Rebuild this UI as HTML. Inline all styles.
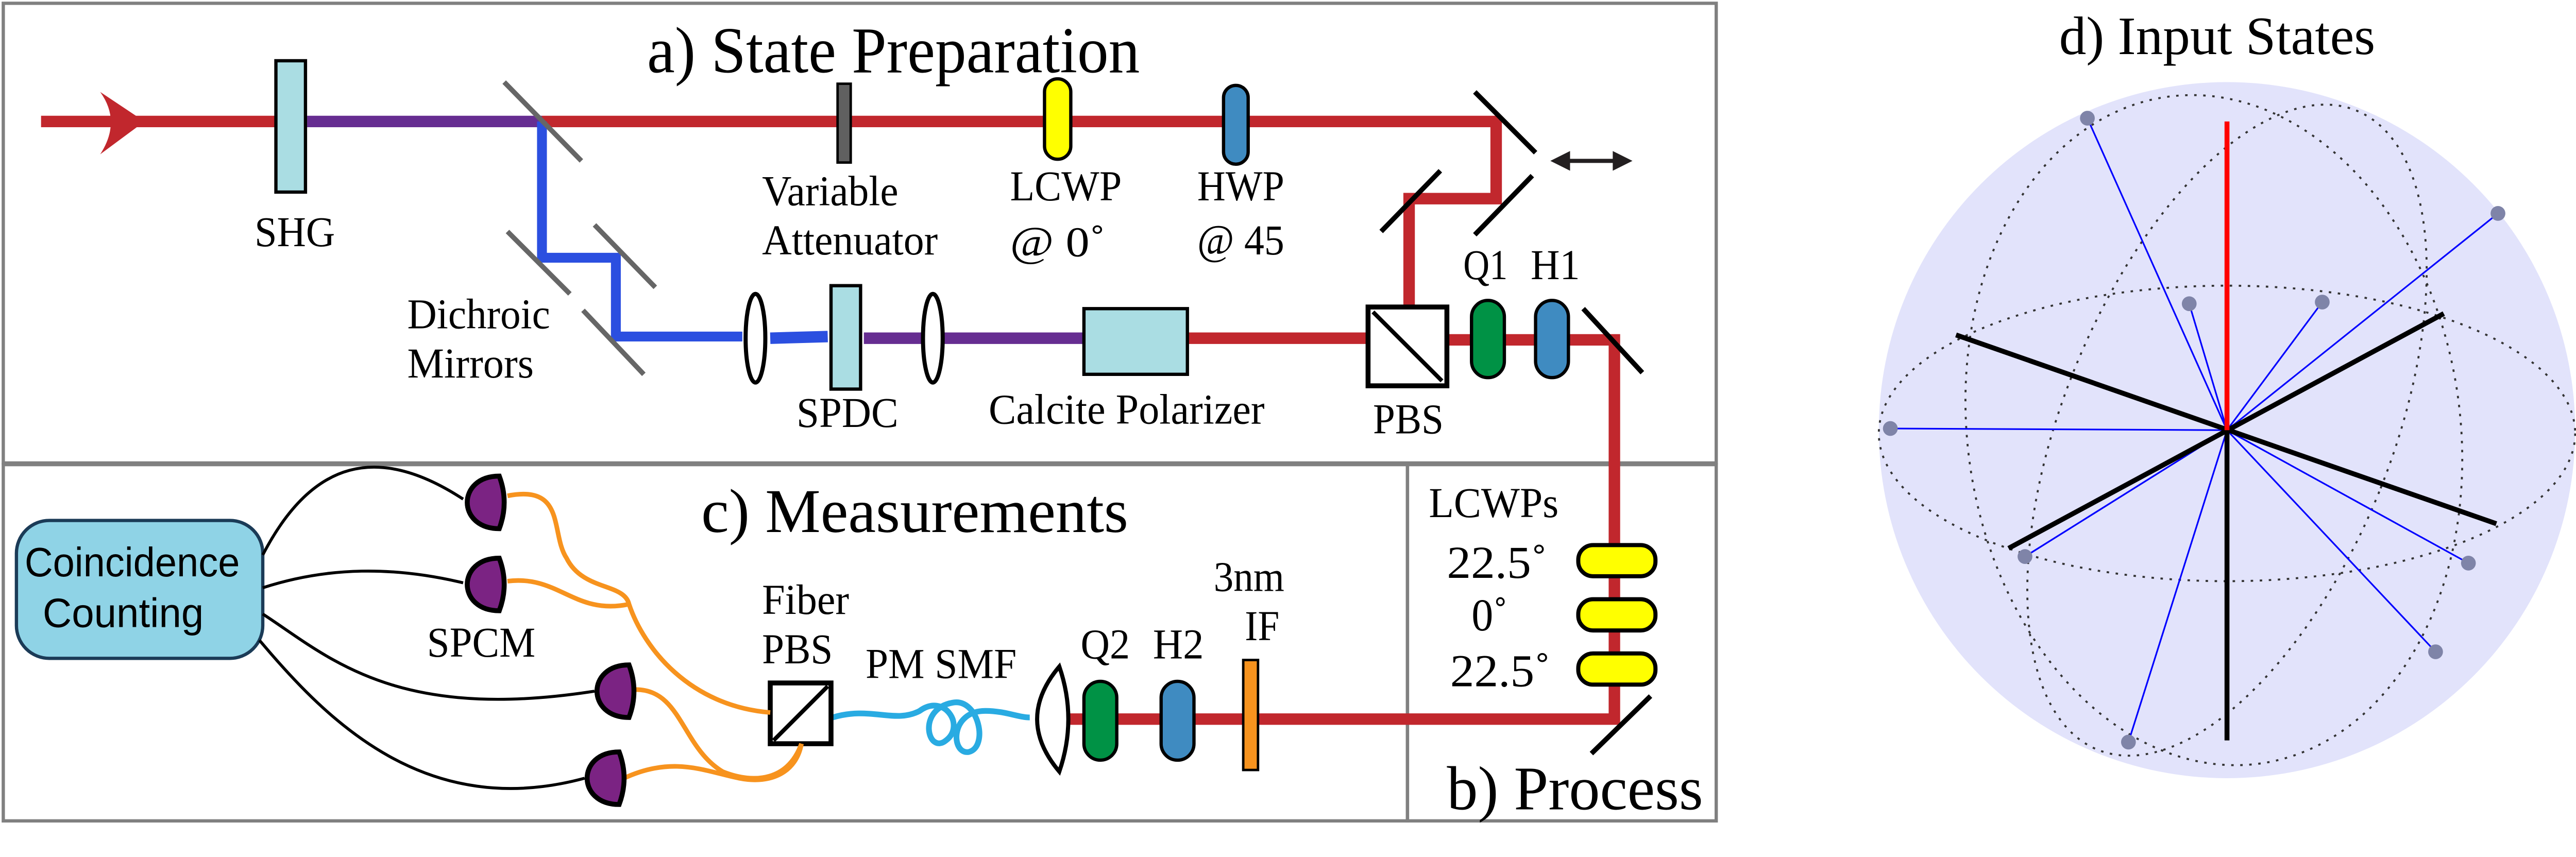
<!DOCTYPE html>
<html><head><meta charset="utf-8"><style>html,body{margin:0;padding:0;background:#fff;overflow:hidden}svg{display:block}text{font-family:"Liberation Serif",serif}.sans{font-family:"Liberation Sans",sans-serif}</style></head><body>
<svg width="5200" height="1664" viewBox="0 0 1631 522" preserveAspectRatio="xMinYMin meet" xmlns="http://www.w3.org/2000/svg">
<rect x="0" y="0" width="1631" height="522" fill="#fff"/>
<!-- panels -->
<rect x="2" y="2" width="1043" height="280" fill="none" stroke="#808080" stroke-width="2"/>
<rect x="2" y="283" width="855" height="217" fill="none" stroke="#808080" stroke-width="2"/>
<rect x="857" y="283" width="188" height="217" fill="none" stroke="#808080" stroke-width="2"/>

<!-- beams -->
<g stroke-linecap="butt" fill="none">
<line x1="25" y1="74" x2="168" y2="74" stroke="#c1272d" stroke-width="7"/>
<line x1="187" y1="74" x2="330" y2="74" stroke="#662d91" stroke-width="7"/>
<polyline points="330,74 911,74 911,121 858,121 858,187" stroke="#c1272d" stroke-width="7"/>
<polyline points="330,74 330,157 375,157 375,205 452,205" stroke="#2b4fe0" stroke-width="6"/>
<line x1="469" y1="206" x2="504" y2="205" stroke="#2b4fe0" stroke-width="7"/>
<line x1="526" y1="206" x2="660" y2="206" stroke="#662d91" stroke-width="7"/>
<line x1="723" y1="206" x2="833" y2="206" stroke="#c1272d" stroke-width="7"/>
<polyline points="881,207 983,207 983,438 651,438" stroke="#c1272d" stroke-width="7"/>
<path d="M507,437 C530,430 545,441 560,433 C575,422 588,442 576,451 C565,460 558,432 580,428 C596,425 602,455 590,458 C579,460 578,433 600,433 C612,433 620,437 627,437" stroke="#29abe2" stroke-width="3.5"/>
</g>
<path d="M61,56 L88,74 L61,94 Q74,74 61,56 Z" fill="#c1272d"/>
<rect x="168" y="37" width="18" height="80" fill="#aadde3" stroke="#000" stroke-width="2"/>
<g stroke="#666" stroke-width="3">
<line x1="307" y1="50" x2="354" y2="98"/>
<line x1="309" y1="141" x2="347" y2="179"/>
<line x1="362" y1="137" x2="399" y2="175"/>
<line x1="355" y1="189" x2="392" y2="228"/>
</g>
<rect x="510" y="51" width="8" height="48" fill="#606060" stroke="#000" stroke-width="1.5"/>
<rect x="636" y="48" width="16" height="49" rx="8" fill="#ffff00" stroke="#000" stroke-width="2"/>
<rect x="745" y="52" width="15" height="48" rx="7.5" fill="#3f8bc1" stroke="#000" stroke-width="2"/>
<ellipse cx="460" cy="206" rx="6" ry="27" fill="#fff" stroke="#000" stroke-width="2.5"/>
<rect x="506" y="174" width="18" height="63" fill="#aadde3" stroke="#000" stroke-width="2"/>
<ellipse cx="568" cy="206" rx="6" ry="27" fill="#fff" stroke="#000" stroke-width="2.5"/>
<rect x="660" y="188" width="63" height="40" fill="#aadde3" stroke="#000" stroke-width="2"/>
<rect x="833" y="187" width="48" height="48" fill="#fff" stroke="#000" stroke-width="3"/>
<line x1="836" y1="190" x2="878" y2="232" stroke="#000" stroke-width="2.5"/>
<g stroke="#000" stroke-width="3">
<line x1="898" y1="56" x2="935" y2="93"/>
<line x1="841" y1="141" x2="877" y2="104"/>
<line x1="898" y1="143" x2="933" y2="107"/>
<line x1="964" y1="188" x2="1000" y2="227"/>
<line x1="969" y1="459" x2="1005" y2="424"/>
</g>
<line x1="952" y1="98" x2="986" y2="98" stroke="#231f20" stroke-width="2.5"/>
<path d="M944,98 L956,92 L956,104 Z M994,98 L982,92 L982,104 Z" fill="#231f20"/>
<rect x="896" y="183" width="20" height="47" rx="10" fill="#009245" stroke="#000" stroke-width="2"/>
<rect x="935" y="183" width="20" height="47" rx="10" fill="#3f8bc1" stroke="#000" stroke-width="2"/>
<rect x="961" y="332" width="47" height="19" rx="9" fill="#ffff00" stroke="#000" stroke-width="2.5"/>
<rect x="961" y="365" width="47" height="19" rx="9" fill="#ffff00" stroke="#000" stroke-width="2.5"/>
<rect x="961" y="398" width="47" height="19" rx="9" fill="#ffff00" stroke="#000" stroke-width="2.5"/>
<rect x="757" y="402" width="9" height="67" fill="#f7931e" stroke="#000" stroke-width="1.5"/>
<rect x="707" y="415" width="20" height="48" rx="10" fill="#3f8bc1" stroke="#000" stroke-width="2"/>
<rect x="660" y="415" width="20" height="48" rx="10" fill="#009245" stroke="#000" stroke-width="2"/>
<path d="M645,406 Q618,438 645,470 Q656,438 645,406 Z" fill="#fff" stroke="#000" stroke-width="2.5"/>
<rect x="469" y="416" width="37" height="37" fill="#fff" stroke="#000" stroke-width="3"/>
<line x1="471" y1="451" x2="504" y2="418" stroke="#000" stroke-width="2.5"/>
<rect x="10" y="317" width="150" height="84" rx="20" fill="#8fd3e6" stroke="#1b3b57" stroke-width="2"/>
<g fill="none" stroke="#000" stroke-width="1.8">
<path d="M160,338 C190,280 230,270 282,304"/>
<path d="M160,358 C200,345 240,345 282,355"/>
<path d="M160,374 C200,400 240,440 362,421"/>
<path d="M158,390 C200,440 260,500 356,474"/>
</g>
<g fill="none" stroke="#f7931e" stroke-width="2.8">
<path d="M309,302 C345,295 335,325 345,340 C355,360 380,355 383,368 C392,395 420,430 469,434"/>
<path d="M309,354 C340,350 350,375 383,368"/>
<path d="M387,420 C415,420 415,455 440,470 C460,478 480,475 488,453"/>
<path d="M380,474 C410,460 430,470 450,474 C470,478 485,470 488,453"/>
</g>
<g fill="#7b2383" stroke="#000" stroke-width="3">
<path d="M304,290 C278,290 278,322 304,322 Q310,306 304,290 Z"/>
<path d="M304,340 C278,340 278,372 304,372 Q310,356 304,340 Z"/>
<path d="M383,405 C357,405 357,437 383,437 Q389,421 383,405 Z"/>
<path d="M377,458 C351,458 351,490 377,490 Q383,474 377,458 Z"/>
</g>

<g fill="#000">
<text x="394" y="44" font-size="40" textLength="300" lengthAdjust="spacingAndGlyphs">a) State Preparation</text>
<text x="427" y="324" font-size="38" textLength="260" lengthAdjust="spacingAndGlyphs">c) Measurements</text>
<text x="881" y="493" font-size="38" textLength="156" lengthAdjust="spacingAndGlyphs">b) Process</text>
<text x="155" y="150" font-size="26" textLength="49" lengthAdjust="spacingAndGlyphs">SHG</text>
<text x="248" y="200" font-size="26" textLength="87" lengthAdjust="spacingAndGlyphs">Dichroic</text>
<text x="248" y="230" font-size="26" textLength="77" lengthAdjust="spacingAndGlyphs">Mirrors</text>
<text x="464" y="125" font-size="26" textLength="83" lengthAdjust="spacingAndGlyphs">Variable</text>
<text x="464" y="155" font-size="26" textLength="107" lengthAdjust="spacingAndGlyphs">Attenuator</text>
<text x="615" y="122" font-size="26" textLength="68" lengthAdjust="spacingAndGlyphs">LCWP</text>
<text x="615" y="156" font-size="26" textLength="58" lengthAdjust="spacingAndGlyphs">@ 0˚</text>
<text x="729" y="122" font-size="26" textLength="53" lengthAdjust="spacingAndGlyphs">HWP</text>
<text x="729" y="155" font-size="26" textLength="53" lengthAdjust="spacingAndGlyphs">@ 45</text>
<text x="891" y="170" font-size="26" textLength="27" lengthAdjust="spacingAndGlyphs">Q1</text>
<text x="932" y="170" font-size="26" textLength="30" lengthAdjust="spacingAndGlyphs">H1</text>
<text x="485" y="260" font-size="26" textLength="62" lengthAdjust="spacingAndGlyphs">SPDC</text>
<text x="602" y="258" font-size="26" textLength="168" lengthAdjust="spacingAndGlyphs">Calcite Polarizer</text>
<text x="836" y="264" font-size="26" textLength="43" lengthAdjust="spacingAndGlyphs">PBS</text>
<text x="870" y="315" font-size="26" textLength="79" lengthAdjust="spacingAndGlyphs">LCWPs</text>
<text x="881" y="352" font-size="28" textLength="61" lengthAdjust="spacingAndGlyphs">22.5˚</text>
<text x="896" y="384" font-size="28" textLength="22" lengthAdjust="spacingAndGlyphs">0˚</text>
<text x="883" y="418" font-size="28" textLength="61" lengthAdjust="spacingAndGlyphs">22.5˚</text>
<text x="739" y="360" font-size="26" textLength="43" lengthAdjust="spacingAndGlyphs">3nm</text>
<text x="758" y="390" font-size="26" textLength="21" lengthAdjust="spacingAndGlyphs">IF</text>
<text x="658" y="401" font-size="26" textLength="30" lengthAdjust="spacingAndGlyphs">Q2</text>
<text x="702" y="401" font-size="26" textLength="31" lengthAdjust="spacingAndGlyphs">H2</text>
<text x="527" y="413" font-size="26" textLength="92" lengthAdjust="spacingAndGlyphs">PM SMF</text>
<text x="464" y="374" font-size="26" textLength="53" lengthAdjust="spacingAndGlyphs">Fiber</text>
<text x="464" y="404" font-size="26" textLength="43" lengthAdjust="spacingAndGlyphs">PBS</text>
<text x="260" y="400" font-size="26" textLength="66" lengthAdjust="spacingAndGlyphs">SPCM</text>
<text class="sans" x="15" y="351" font-size="25" textLength="131" lengthAdjust="spacingAndGlyphs">Coincidence</text>
<text class="sans" x="26" y="382" font-size="25" textLength="98" lengthAdjust="spacingAndGlyphs">Counting</text>
</g>

<text x="1350" y="33" font-size="33" text-anchor="middle">d) Input States</text>
<circle cx="1356" cy="262" r="212" fill="#e2e3fb"/>
<g fill="none" stroke="#333" stroke-width="1.2" stroke-dasharray="1.5,4">
<ellipse cx="1356" cy="264" rx="212" ry="90"/>
<ellipse cx="1348" cy="262" rx="150" ry="205" transform="rotate(-8 1348 262)"/>
<ellipse cx="1356" cy="262" rx="100" ry="210" transform="rotate(22 1356 262)"/>
</g>
<g stroke="#00f" stroke-width="1">
<line x1="1356" y1="262" x2="1271" y2="72"/>
<line x1="1356" y1="262" x2="1521" y2="130"/>
<line x1="1356" y1="262" x2="1333" y2="185"/>
<line x1="1356" y1="262" x2="1414" y2="184"/>
<line x1="1356" y1="262" x2="1151" y2="261"/>
<line x1="1356" y1="262" x2="1233" y2="339"/>
<line x1="1356" y1="262" x2="1503" y2="343"/>
<line x1="1356" y1="262" x2="1483" y2="397"/>
<line x1="1356" y1="262" x2="1296" y2="452"/>
</g>
<g stroke="#000" stroke-width="3">
<line x1="1191" y1="204" x2="1520" y2="319"/>
<line x1="1223" y1="334" x2="1488" y2="191"/>
<line x1="1356" y1="262" x2="1356" y2="451"/>
</g>
<line x1="1356" y1="262" x2="1356" y2="74" stroke="#f00" stroke-width="3"/>
<g fill="#7f84a8">
<circle cx="1271" cy="72" r="4.5"/><circle cx="1521" cy="130" r="4.5"/>
<circle cx="1333" cy="185" r="4.5"/><circle cx="1414" cy="184" r="4.5"/>
<circle cx="1151" cy="261" r="4.5"/><circle cx="1233" cy="339" r="4.5"/>
<circle cx="1503" cy="343" r="4.5"/><circle cx="1483" cy="397" r="4.5"/>
<circle cx="1296" cy="452" r="4.5"/>
</g>
</svg>
</body></html>
